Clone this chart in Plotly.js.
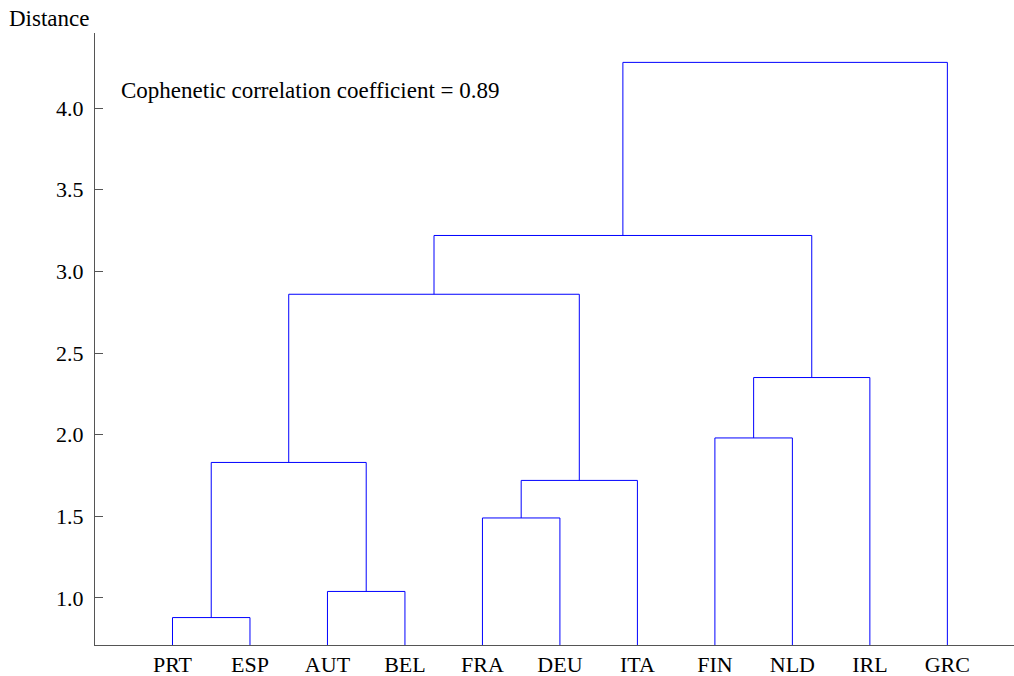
<!DOCTYPE html>
<html>
<head>
<meta charset="utf-8">
<script src="https://cdn.plot.ly/plotly-3.0.1.min.js"></script>
<style>
  html, body { margin: 0; padding: 0; background: #fff; }
  #chart { width: 1014px; height: 676px; }
</style>
</head>
<body>
<div id="chart"></div>
<script>
// Leaf order along the horizontal axis
const leafLabels = ['PRT', 'ESP', 'AUT', 'BEL', 'FRA', 'DEU', 'ITA', 'FIN', 'NLD', 'IRL', 'GRC'];

// Linkage: ids 0..10 are leaves, each merge creates a new id starting at 11
const mergeLeft  = [0, 2, 4, 13, 11, 7, 16, 15, 18, 19];
const mergeRight = [1, 3, 5, 6, 12, 8, 9, 14, 17, 10];
const mergeHeight = [0.88, 1.04, 1.49, 1.72, 1.83, 1.98, 2.35, 2.86, 3.22, 4.28];

const copheneticCoef = 0.89;
const yTickValues = [1.0, 1.5, 2.0, 2.5, 3.0, 3.5, 4.0];

const yRange = [0.712, 4.46];
const xRange = [0, 11.86];

// Node positions: leaves sit at 1..n, merged nodes at the midpoint of their children
const nodeX = leafLabels.map((_, i) => i + 1);
const nodeH = leafLabels.map(() => yRange[0]);
const lx = [], ly = [];
mergeHeight.forEach((h, k) => {
  const a = mergeLeft[k], b = mergeRight[k];
  lx.push(nodeX[a], nodeX[a], nodeX[b], nodeX[b], null);
  ly.push(nodeH[a], h, h, nodeH[b], null);
  nodeX.push((nodeX[a] + nodeX[b]) / 2);
  nodeH.push(h);
});

const tickFont = { family: 'Liberation Serif', size: 22, color: '#000' };
const noteFont = { family: 'Liberation Serif', size: 23, color: '#000' };

const data = [{
  type: 'scatter',
  mode: 'lines',
  x: lx,
  y: ly,
  line: { color: '#0000ff', width: 1 },
  hoverinfo: 'skip',
  showlegend: false,
  cliponaxis: false
}];

const layout = {
  width: 1014,
  height: 676,
  margin: { l: 95, r: 0, t: 33, b: 31 },
  paper_bgcolor: '#fff',
  plot_bgcolor: '#fff',
  font: tickFont,
  showlegend: false,
  xaxis: {
    range: xRange,
    tickvals: leafLabels.map((_, i) => i + 1),
    ticktext: leafLabels,
    ticks: '',
    showgrid: false,
    zeroline: false,
    showline: true,
    linecolor: '#555',
    linewidth: 1,
    tickfont: tickFont,
    fixedrange: true
  },
  yaxis: {
    range: yRange,
    tickvals: yTickValues,
    ticktext: yTickValues.map(v => v.toFixed(1)),
    ticks: 'inside',
    ticklen: 8,
    tickcolor: '#555',
    showgrid: false,
    zeroline: false,
    showline: true,
    linecolor: '#555',
    linewidth: 1,
    tickfont: tickFont,
    ticklabelstandoff: 6,
    fixedrange: true
  },
  annotations: [
    {
      text: 'Distance',
      xref: 'paper', yref: 'paper',
      x: -88 / 919, y: 1 + 15 / 612,
      xanchor: 'left', yanchor: 'middle',
      showarrow: false,
      font: noteFont
    },
    {
      text: 'Cophenetic correlation coefficient = ' + copheneticCoef.toFixed(2),
      xref: 'paper', yref: 'paper',
      x: 24 / 919, y: 1 - 57 / 612,
      xanchor: 'left', yanchor: 'middle',
      showarrow: false,
      font: noteFont
    }
  ]
};

Plotly.newPlot('chart', data, layout, { staticPlot: true, displayModeBar: false });
</script>
</body>
</html>
